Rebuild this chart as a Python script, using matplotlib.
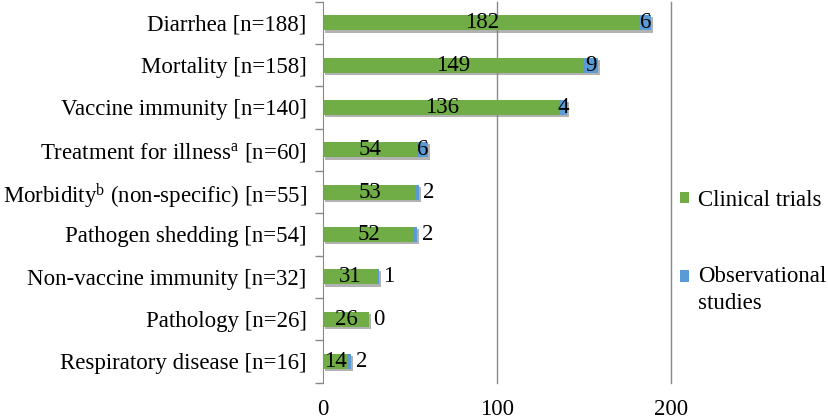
import numpy as np
import matplotlib.pyplot as plt
import matplotlib.patheffects as pe
from matplotlib.patches import Rectangle
from matplotlib.legend_handler import HandlerPatch, update_from_first_child
from matplotlib.ticker import FixedLocator

plt.rcParams['font.family'] = 'Liberation Serif'
plt.rcParams['mathtext.fontset'] = 'custom'
plt.rcParams['mathtext.rm'] = 'Liberation Serif'
plt.rcParams['mathtext.it'] = 'Liberation Serif:italic'

categories = ['Diarrhea [n=188]', 'Mortality [n=158]', 'Vaccine immunity [n=140]',
              r'Treatment for illness$^{\mathrm{a}}$ [n=60]',
              r'Morbidity$^{\mathrm{b}}$ (non-specific) [n=55]',
              'Pathogen shedding [n=54]', 'Non-vaccine immunity [n=32]',
              'Pathology [n=26]', 'Respiratory disease [n=16]']
clinical = [182, 149, 136, 54, 53, 52, 31, 26, 14]
observational = [6, 9, 4, 6, 2, 2, 1, 0, 2]

green = '#70AD47'
blue = '#5B9BD5'

fig = plt.figure(figsize=(8.29, 4.2), dpi=100)
ax = fig.add_axes([0.39, 0.089, 0.42, 0.907])

y = np.arange(len(categories))
shadow = [pe.SimplePatchShadow(offset=(1.5, -1.5), shadow_rgbFace='gray', alpha=0.6), pe.Normal()]
b1 = ax.barh(y, clinical, height=0.36, color=green, label='Clinical trials', zorder=3)
b2 = ax.barh(y, observational, left=clinical, height=0.36, color=blue,
             label='Observational\nstudies', zorder=3)
for bar in list(b1) + list(b2):
    bar.set_path_effects(shadow)

for i in range(len(categories)):
    ax.text(clinical[i] / 2, y[i], str(clinical[i]), ha='center', va='center',
            fontsize=16.5, zorder=5)
    end = clinical[i] + observational[i]
    if observational[i] >= 3:
        ax.text(clinical[i] + observational[i] / 2, y[i], str(observational[i]),
                ha='center', va='center', fontsize=16.5, zorder=5)
    else:
        ax.text(end + 2.5, y[i], str(observational[i]), ha='left', va='center',
                fontsize=16.5, zorder=5)

ax.set_xlim(0, 200)
ax.set_ylim(len(categories) - 0.5, -0.5)
ax.set_xticks([0, 100, 200])
ax.set_xticklabels(['0', '100', '200'], fontsize=16.5)
ax.set_yticks(y)
ax.set_yticklabels(categories, fontsize=16.5)
ax.yaxis.set_minor_locator(FixedLocator(np.arange(-0.5, len(categories), 1)))
ax.tick_params(axis='y', which='major', length=0, pad=12)
ax.tick_params(axis='y', which='minor', length=6, color='#898989', width=1)
ax.tick_params(axis='x', length=0, pad=12)

for xv in [100, 200]:
    ax.axvline(xv, color='#898989', linewidth=1, zorder=0, clip_on=False)
for s in ['top', 'right', 'bottom']:
    ax.spines[s].set_visible(False)
ax.spines['left'].set_color('#898989')
ax.spines['left'].set_zorder(4)


# legend marker for the two-line entry sits next to the first line
def raised_square(legend, orig_handle, xdescent, ydescent, width, height, fontsize):
    return Rectangle((-xdescent, -ydescent + 10), width, height)


leg = ax.legend(loc='center left', bbox_to_anchor=(0.965, 0.343), frameon=False, fontsize=16.5,
                handlelength=0.4, handleheight=0.4, handletextpad=0.4, labelspacing=2.4,
                handler_map={b2: HandlerPatch(patch_func=raised_square,
                                              update_func=update_from_first_child)})
leg.get_texts()[1].set_linespacing(1.4)
for h in leg.legend_handles:
    h.set_path_effects([])

fig.savefig('out.png', dpi=100)
